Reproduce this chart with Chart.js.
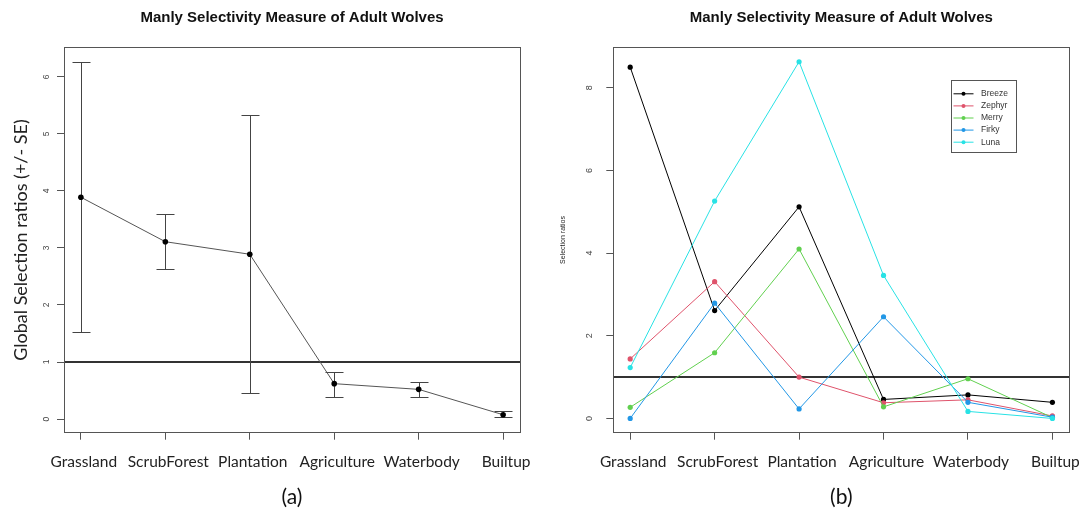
<!DOCTYPE html>
<html><head><meta charset="utf-8">
<script src="https://cdn.jsdelivr.net/npm/chart.js@4/dist/chart.umd.min.js"></script>
<style>
html,body{margin:0;padding:0;background:#fff;width:1081px;height:525px;overflow:hidden}
#ca{position:absolute;left:0;top:0}
#cb{position:absolute;left:540px;top:0}
</style></head><body>
<canvas id="ca" width="540" height="525"></canvas>
<canvas id="cb" width="541" height="525"></canvas>
<script>
// ---- data ----
const categories = ['Grassland','ScrubForest','Plantation','Agriculture','Waterbody','Builtup'];
const positions = [1,2,3,4,5,6];
const globalRatio = [3.89, 3.11, 2.89, 0.62, 0.52, 0.075];
const seUpper = [6.26, 3.59, 5.33, 0.82, 0.65, 0.135];
const seLower = [1.53, 2.63, 0.45, 0.39, 0.38, 0.03];
const wolfNames = ['Breeze','Zephyr','Merry','Firky','Luna'];
const breeze = [8.50, 2.61, 5.12, 0.46, 0.57, 0.39];
const zephyr = [1.44, 3.31, 1.00, 0.38, 0.45, 0.06];
const merry  = [0.27, 1.59, 4.10, 0.28, 0.96, 0.02];
const firky  = [0.00, 2.79, 0.23, 2.46, 0.39, 0.03];
const luna   = [1.23, 5.26, 8.63, 3.46, 0.17, 0.00];
const yTicksA = [0,1,2,3,4,5,6];
const yTicksB = [0,2,4,6,8];
const refLine = 1;
const titleText = 'Manly Selectivity Measure of Adult Wolves';
const yTitleA = 'Global Selection ratios (+/- SE)';
const yTitleB = 'Selection ratios';
const panelA = '(a)';
const panelB = '(b)';

// ---- styles ----
const wolfColors = ['#000000','#DF536B','#61D04F','#2297E6','#28E2E5'];
Chart.defaults.font.family = '"Liberation Sans", Arial, sans-serif';
Chart.defaults.animation = false;

const framePlugin = {
  id: 'frame',
  beforeDatasetsDraw(chart, args, opts) {
    const {ctx, chartArea: a, scales: {y}} = chart;
    ctx.save();
    const py = y.getPixelForValue(opts.ref);
    ctx.strokeStyle = '#333'; ctx.lineWidth = 2;
    ctx.beginPath(); ctx.moveTo(a.left, py); ctx.lineTo(a.right, py); ctx.stroke();
    ctx.strokeStyle = '#555'; ctx.lineWidth = 1;
    ctx.strokeRect(Math.round(a.left) + 0.5, Math.round(a.top) + 0.5,
                   Math.round(a.right - a.left), Math.round(a.bottom - a.top));
    ctx.restore();
  }
};

const errorBarPlugin = {
  id: 'errbars',
  beforeDatasetsDraw(chart, args, opts) {
    if (!opts.upper) return;
    const {ctx, scales: {x, y}} = chart;
    ctx.save(); ctx.strokeStyle = '#444'; ctx.lineWidth = 1;
    opts.xs.forEach((xv, i) => {
      const px = Math.round(x.getPixelForValue(xv)) + 0.5;
      const pu = Math.round(y.getPixelForValue(opts.upper[i])) + 0.5;
      const pl = Math.round(y.getPixelForValue(opts.lower[i])) + 0.5;
      ctx.beginPath();
      ctx.moveTo(px, pu); ctx.lineTo(px, pl);
      ctx.moveTo(px - 9, pu); ctx.lineTo(px + 9, pu);
      ctx.moveTo(px - 9, pl); ctx.lineTo(px + 9, pl);
      ctx.stroke();
    });
    ctx.restore();
  }
};

const boxLegendPlugin = {
  id: 'boxLegend',
  afterDatasetsDraw(chart, args, opts) {
    if (!opts.w) return;
    const {ctx, chartArea: a} = chart;
    const left = Math.round(a.right - opts.fromRight) + 0.5;
    const top = Math.round(a.top + opts.fromTop) + 0.5;
    ctx.save();
    ctx.fillStyle = '#fff'; ctx.fillRect(left, top, opts.w, opts.h);
    ctx.strokeStyle = '#555'; ctx.lineWidth = 1; ctx.strokeRect(left, top, opts.w, opts.h);
    ctx.font = '8.5px "Liberation Sans", Arial, sans-serif';
    ctx.textBaseline = 'middle'; ctx.textAlign = 'left';
    chart.data.datasets.forEach((ds, i) => {
      const yy = top + opts.first + i * opts.step;
      ctx.strokeStyle = ds.borderColor; ctx.lineWidth = 1;
      ctx.beginPath(); ctx.moveTo(left + 2, yy); ctx.lineTo(left + 22, yy); ctx.stroke();
      ctx.fillStyle = ds.pointBackgroundColor;
      ctx.beginPath(); ctx.arc(left + 12, yy, 2, 0, Math.PI * 2); ctx.fill();
      ctx.fillStyle = '#333'; ctx.fillText(ds.label, left + 29.5, yy);
    });
    ctx.restore();
  }
};

function makeScales(o) {
  const grid = {display: true, drawOnChartArea: false, drawTicks: true, tickLength: 7, tickColor: '#555', tickWidth: 1};
  return {
    x: {
      type: 'linear', position: 'bottom', min: 0.8, max: 6.2,
      afterBuildTicks: s => { s.ticks = positions.map(v => ({value: v})); },
      afterFit: s => { s.height = 92.3; s.paddingLeft = 0; s.paddingRight = 0; },
      ticks: {callback: v => categories[v - 1], font: {family: 'Lato', size: 15.5}, color: '#222',
              padding: 12.7, maxRotation: 0, minRotation: 0, autoSkip: false, labelOffset: 3},
      grid: grid, border: {display: false},
      title: {display: true, text: o.panel, font: {family: 'Lato', size: 21}, color: '#111',
              padding: {top: 0, bottom: 15.4}}
    },
    top: {
      type: 'linear', position: 'top', axis: 'x', min: 0.8, max: 6.2,
      ticks: {display: false}, grid: {display: false}, border: {display: false},
      afterFit: s => { s.height = 47.3; s.paddingLeft = 0; s.paddingRight = 0; },
      title: {display: true, text: titleText, font: {size: 15, weight: 'bold'}, color: '#111',
              padding: {top: 9.3, bottom: 0}}
    },
    y: {
      type: 'linear', position: 'left', min: o.ymin, max: o.ymax,
      afterBuildTicks: s => { s.ticks = o.yticks.map(v => ({value: v})); },
      afterFit: s => { s.width = o.yw; },
      ticks: {minRotation: 90, maxRotation: 90, crossAlign: 'center', font: {size: o.tickSize},
              color: '#444', padding: o.tickPad},
      grid: grid, border: {display: false},
      title: {display: true, text: o.ytitle, font: o.ytitleFont, color: '#222',
              padding: {top: o.ytitlePad, bottom: 0}}
    }
  };
}

const pts = arr => positions.map((p, i) => ({x: p, y: arr[i]}));

new Chart(document.getElementById('ca'), {
  type: 'line',
  data: {datasets: [{
    label: 'Global', data: pts(globalRatio), xAxisID: 'x', yAxisID: 'y',
    borderColor: '#555', borderWidth: 1, tension: 0,
    pointRadius: 2.8, pointBackgroundColor: '#000', pointBorderColor: '#000', pointBorderWidth: 0
  }]},
  options: {
    responsive: false, devicePixelRatio: 1,
    layout: {padding: {left: 0, right: 20, top: 0, bottom: 0}},
    plugins: {legend: {display: false}, tooltip: {enabled: false},
      frame: {ref: refLine},
      errbars: {xs: positions, upper: seUpper, lower: seLower}},
    scales: makeScales({panel: panelA, ymin: -0.24, ymax: 6.52, yticks: yTicksA, yw: 64,
      tickSize: 8.5, tickPad: 7.8, ytitle: yTitleA, ytitleFont: {family: 'Lato', size: 18}, ytitlePad: 10.2})
  },
  plugins: [framePlugin, errorBarPlugin]
});

const series = [breeze, zephyr, merry, firky, luna];
new Chart(document.getElementById('cb'), {
  type: 'line',
  data: {datasets: series.map((arr, i) => ({
    label: wolfNames[i], data: pts(arr), xAxisID: 'x', yAxisID: 'y', order: 5 - i,
    borderColor: wolfColors[i], borderWidth: 1, tension: 0,
    pointRadius: 2.6, pointBackgroundColor: wolfColors[i], pointBorderColor: wolfColors[i], pointBorderWidth: 0
  }))},
  options: {
    responsive: false, devicePixelRatio: 1,
    layout: {padding: {left: 0, right: 11.7, top: 0, bottom: 0}},
    plugins: {legend: {display: false}, tooltip: {enabled: false},
      frame: {ref: refLine},
      boxLegend: {fromRight: 118.3, fromTop: 32.7, w: 65, h: 72, first: 13.3, step: 12.1}},
    scales: makeScales({panel: panelB, ymin: -0.345, ymax: 8.98, yticks: yTicksB, yw: 73.3,
      tickSize: 9, tickPad: 14, ytitle: yTitleB, ytitleFont: {size: 7}, ytitlePad: 18.8})
  },
  plugins: [framePlugin, boxLegendPlugin]
});
</script>
</body></html>
